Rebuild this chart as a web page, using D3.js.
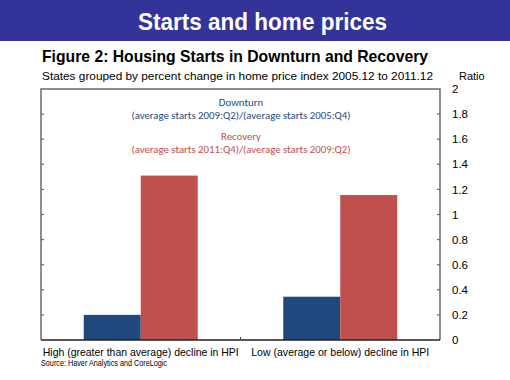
<!DOCTYPE html>
<html>
<head>
<meta charset="utf-8">
<script src="https://cdn.jsdelivr.net/npm/d3@7"></script>
<style>
  body { margin: 0; background: #fff; }
  svg { display: block; }
</style>
</head>
<body>
<script>
const categories = ['High (greater than average) decline in HPI', 'Low (average or below) decline in HPI'];
const downturn = [0.2, 0.345];
const recovery = [1.31, 1.155];
const seriesNames = ['Downturn', 'Recovery'];
const yTicks = [0, 0.2, 0.4, 0.6, 0.8, 1, 1.2, 1.4, 1.6, 1.8, 2];

const width = 510, height = 380;
const plot = { left: 41, right: 440, top: 89, bottom: 340 };
const colors = ['#1f497d', '#c0504d'];

const svg = d3.select('body').append('svg')
  .attr('width', width)
  .attr('height', height)
  .style('font-family', 'Arial, "Liberation Sans", sans-serif');

// header band
svg.append('rect')
  .attr('x', 0).attr('y', 0)
  .attr('width', width).attr('height', 41)
  .attr('fill', '#333399');
svg.append('text')
  .attr('x', 138).attr('y', 30)
  .attr('fill', '#fff')
  .attr('font-size', 23.5)
  .attr('font-weight', 'bold')
  .attr('textLength', 249)
  .attr('lengthAdjust', 'spacingAndGlyphs')
  .text('Starts and home prices');

svg.append('text')
  .attr('x', 42).attr('y', 62)
  .attr('font-size', 16.5)
  .attr('font-weight', 'bold')
  .attr('textLength', 386)
  .attr('lengthAdjust', 'spacingAndGlyphs')
  .text('Figure 2: Housing Starts in Downturn and Recovery');
svg.append('text')
  .attr('x', 42).attr('y', 80)
  .attr('font-size', 11.8)
  .attr('textLength', 391)
  .attr('lengthAdjust', 'spacingAndGlyphs')
  .text('States grouped by percent change in home price index 2005.12 to 2011.12');
svg.append('text')
  .attr('x', 459).attr('y', 80)
  .attr('font-size', 11)
  .text('Ratio');

const x0 = d3.scaleBand().domain(categories).range([plot.left, plot.right]);
const x1 = d3.scaleBand().domain(seriesNames)
  .range([0, x0.bandwidth()]).paddingOuter(0.75);
const y = d3.scaleLinear().domain([0, 2]).range([plot.bottom, plot.top]);

// bars
const rows = categories.map((c, i) => ({ cat: c, vals: [downturn[i], recovery[i]] }));
const groups = svg.append('g').selectAll('g')
  .data(rows).enter().append('g')
  .attr('transform', d => `translate(${x0(d.cat)},0)`);
groups.selectAll('rect')
  .data(d => d.vals.map((v, j) => ({ name: seriesNames[j], v, j })))
  .enter().append('rect')
  .attr('x', d => x1(d.name))
  .attr('y', d => y(d.v))
  .attr('width', x1.bandwidth())
  .attr('height', d => y(0) - y(d.v))
  .attr('fill', d => colors[d.j]);

// box
svg.append('path')
  .attr('d', `M${plot.left},${plot.bottom}V${plot.top}H${plot.right}V${plot.bottom}`)
  .attr('fill', 'none')
  .attr('stroke', '#6a6a6a')
  .attr('stroke-width', 1.5);

// right axis
const yAxis = svg.append('g')
  .attr('transform', `translate(${plot.right},0)`)
  .call(d3.axisRight(y).tickValues(yTicks).tickSize(0).tickPadding(12)
    .tickFormat(d3.format('')));
yAxis.select('.domain').remove();
yAxis.selectAll('text')
  .attr('font-size', 11.5)
  .attr('font-family', 'Arial, "Liberation Sans", sans-serif')
  .attr('fill', '#000');

// inner ticks both sides
const tickG = svg.append('g').attr('stroke', '#6a6a6a').attr('stroke-width', 1.2);
tickG.selectAll('.lt').data(yTicks.slice(1, -1)).enter().append('line')
  .attr('x1', plot.left).attr('x2', plot.left + 3)
  .attr('y1', d => y(d)).attr('y2', d => y(d));
tickG.selectAll('.rt').data(yTicks.slice(1, -1)).enter().append('line')
  .attr('x1', plot.right - 3).attr('x2', plot.right)
  .attr('y1', d => y(d)).attr('y2', d => y(d));

// bottom axis
svg.append('line')
  .attr('x1', plot.left).attr('x2', plot.right)
  .attr('y1', plot.bottom).attr('y2', plot.bottom)
  .attr('stroke', '#222').attr('stroke-width', 1.5);
svg.append('line')
  .attr('x1', x0(categories[1])).attr('x2', x0(categories[1]))
  .attr('y1', plot.bottom).attr('y2', plot.bottom - 3)
  .attr('stroke', '#444').attr('stroke-width', 1);

const catWidths = [196, 178];
svg.append('g').selectAll('text')
  .data(categories).enter().append('text')
  .attr('x', d => x0(d) + x0.bandwidth() / 2)
  .attr('y', 355.5)
  .attr('text-anchor', 'middle')
  .attr('font-size', 11.2)
  .attr('textLength', (d, i) => catWidths[i])
  .attr('lengthAdjust', 'spacingAndGlyphs')
  .text(d => d);

svg.append('text')
  .attr('x', 41).attr('y', 366)
  .attr('font-size', 8.2)
  .attr('textLength', 126)
  .attr('lengthAdjust', 'spacingAndGlyphs')
  .attr('font-family', '"Liberation Sans Narrow", "Arial Narrow", Arial, sans-serif')
  .text('Source: Haver Analytics and CoreLogic');

// legend notes
const notes = [
  { t: 'Downturn', y: 106, c: colors[0] },
  { t: '(average starts 2009:Q2)/(average starts 2005:Q4)', y: 119, c: colors[0] },
  { t: 'Recovery', y: 140, c: colors[1] },
  { t: '(average starts 2011:Q4)/(average starts 2009:Q2)', y: 153, c: colors[1] }
];
svg.append('g').selectAll('text')
  .data(notes).enter().append('text')
  .attr('x', 241).attr('y', d => d.y)
  .attr('text-anchor', 'middle')
  .attr('font-family', 'Carlito, Lato, sans-serif')
  .attr('font-size', 10.8)
  .attr('fill', d => d.c)
  .text(d => d.t);
</script>
</body>
</html>
